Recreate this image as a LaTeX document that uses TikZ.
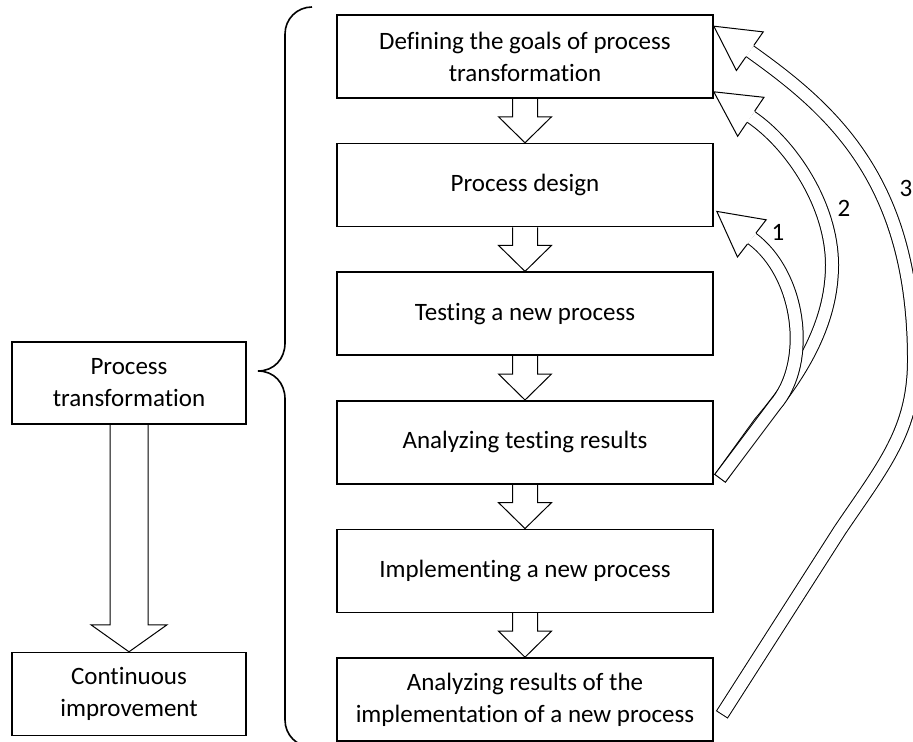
\documentclass[tikz,border=0pt]{standalone}
\usepackage{fontspec}
\setmainfont{Carlito}[RawFeature={-liga;-clig;-calt}]
\usepackage{tikz}
\usetikzlibrary{positioning,calc}
\tikzset
{
    stagebox/.style = {draw=black, line width=0.8pt, align=center, minimum width=188pt, minimum height=41.5pt, inner sep=2pt, font=\fontsize{12.5}{16}\selectfont},
    sidebox/.style  = {stagebox, minimum width=117pt},
    hollow/.style   = {draw=black, line width=0.5pt}
}
% hollow block arrow straight down: from, to, half shaft, half head, head length
\newcommand\blockdown[5]{%
    \draw[hollow] let \p1=(#1.south), \p2=(#2.north) in
        (\x1-#3,\y1) -- (\x1-#3,\y2+#5) -- (\x1-#4,\y2+#5) -- (\x1,\y2)
        -- (\x1+#4,\y2+#5) -- (\x1+#3,\y2+#5) -- (\x1+#3,\y1);
}
% hollow bent arrow: path ending at the head base, head base, tip
\newcommand\bentarrow[3]{%
    \draw[line width=7pt] #1;
    \draw[line width=6pt, white, shorten <=0.5pt] #1;
    \fill[white] ($(#2)!11.75pt!90:(#3)$) -- (#3) -- ($(#2)!11.75pt!-90:(#3)$) -- cycle;
    \draw[hollow] ($(#2)!3.5pt!90:(#3)$) -- ($(#2)!11.75pt!90:(#3)$) -- (#3)
        -- ($(#2)!11.75pt!-90:(#3)$) -- ($(#2)!3.5pt!-90:(#3)$);
}

\begin{document}
\begin{tikzpicture}[x=0.5pt, y=-0.5pt, node distance=22pt]
    \path[use as bounding box, fill=white] (0,0) rectangle (913,742);

    % stages of the transformation
    \node [stagebox] (goals) at (525,56.5) {Defining the goals of process\\transformation};
    \node [stagebox, below=of goals] (design) {Process design};
    \node [stagebox, below=of design] (testing) {Testing a new process};
    \node [stagebox, below=of testing] (analysis) {Analyzing testing results};
    \node [stagebox, below=of analysis] (implement) {Implementing a new process};
    \node [stagebox, below=of implement] (review) {Analyzing results of the\\implementation of a new process};

    \foreach \a/\b in {goals/design, design/testing, testing/analysis, analysis/implement, implement/review}
        \blockdown{\a}{\b}{6.25pt}{13.25pt}{13pt};

    % left column
    \node [sidebox, minimum height=41pt] (transform) at (129,383) {Process\\transformation};
    \node [sidebox, below=113.5pt of transform] (improve) {Continuous\\improvement};
    \blockdown{transform}{improve}{9.5pt}{19pt}{13.5pt};

    % brace
    \draw[line width=0.8pt] (312,7) .. controls (297,7) and (285,19) .. (285,34) -- (285,343)
        .. controls (285,359) and (274,371) .. (258,371)
        .. controls (274,371) and (285,383) .. (285,399) -- (285,720)
        .. controls (285,735) and (297,747) .. (312,747);

    % feedback loops
    \coordinate (tail12) at ($(analysis.south east)+(6,-6)$);
    \coordinate (tail3) at ($(review.south east)+(8,-27)$);
    \coordinate (tip1) at ($(design.south east)+(3,-16)$);
    \coordinate (base1) at ($(tip1)+(35,27)$);
    \coordinate (tip2) at ($(goals.south east)+(0,-7)$);
    \coordinate (base2) at ($(tip2)+(37,25)$);
    \coordinate (tip3) at ($(goals.north east)+(0,12)$);
    \coordinate (base3) at ($(tip3)+(36,25)$);

    \bentarrow{(tail3) -- (840,530) .. controls (884,465) and (914,430) .. (914,360) .. controls (914,180) and (831,109) .. (base3)}{base3}{tip3}
    \bentarrow{(tail12) -- (760,423) .. controls (799,377) and (832,325) .. (832,265) .. controls (832,205) and (791,144) .. (base2)}{base2}{tip2}
    \bentarrow{(tail12) -- (775,405) .. controls (812,362) and (800,274) .. (base1)}{base1}{tip1}

    \node [font=\fontsize{12.5}{16}\selectfont] (n1) at (778,232) {1};
    \node [font=\fontsize{12.5}{16}\selectfont] (n2) at (844,208) {2};
    \node [font=\fontsize{12.5}{16}\selectfont] (n3) at (906,188) {3};
\end{tikzpicture}
\end{document}
